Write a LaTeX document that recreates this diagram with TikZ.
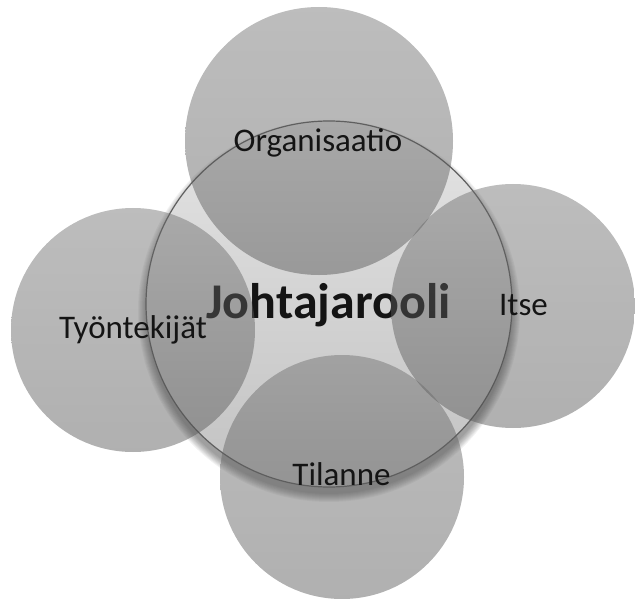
\documentclass[tikz,border=0pt]{standalone}
\usepackage{fontspec}
\setmainfont{Carlito}
\definecolor{satTop}{RGB}{108,108,108}
\definecolor{satBottom}{RGB}{80,80,80}
\definecolor{hubTop}{RGB}{228,228,228}
\definecolor{hubBottom}{RGB}{194,194,194}
\definecolor{hubLine}{RGB}{95,95,95}
\definecolor{labelText}{RGB}{20,20,20}
\begin{document}
\begin{tikzpicture}[x=1pt,y=-1pt,
  satellite/.style={top color=satTop, bottom color=satBottom, fill opacity=0.45},
  hub/.style={top color=hubTop, bottom color=hubBottom},
  label/.style={font=\fontsize{33}{33}\selectfont, text=labelText, inner sep=0pt, anchor=base},
  title/.style={font=\fontsize{50}{50}\selectfont\bfseries, text=labelText, inner sep=0pt, anchor=base}]
  \useasboundingbox (0,0) rectangle (635,599);
  % soft shadow falling below the central circle
  \foreach \r in {191,190,...,183}
    \fill[black, opacity=0.05] (329,311) circle[radius=\r];
  % central circle and its title
  \shade[hub] (329,304) circle[radius=183];
  \node[title] (hubtitle) at (328.5,318) {Johtajarooli};
  \draw[hubLine, line width=1.2pt] (329,304) circle[radius=183];
  % the four surrounding circles
  \shade[satellite] (319,141) circle[radius=134];
  \shade[satellite] (513,306) circle[radius=122];
  \shade[satellite] (133,330) circle[radius=122];
  \shade[satellite] (342,477) circle[radius=122];
  % their labels
  \node[label] (org) at (318,152) {Organisaatio};
  \node[label] (self) at (523.5,315) {Itse};
  \node[label] (staff) at (133,338) {Työntekijät};
  \node[label] (situation) at (341.5,485) {Tilanne};
\end{tikzpicture}
\end{document}
